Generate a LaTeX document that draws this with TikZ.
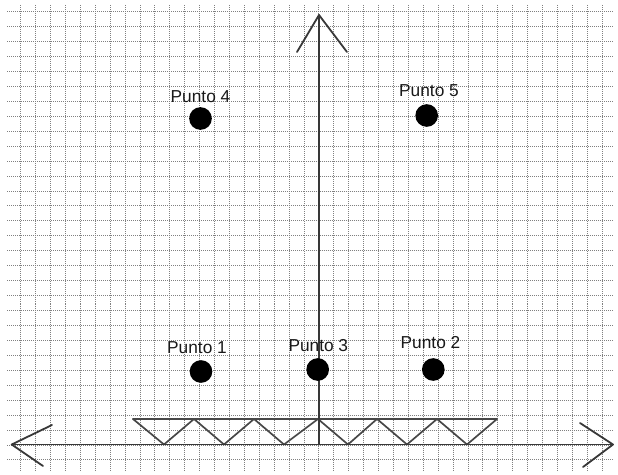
\documentclass[tikz,border=0pt]{standalone}
\usepackage{fontspec}
\setmainfont{Liberation Sans}
\begin{document}
\begin{tikzpicture}[x=0.333333mm,y=-0.333333mm,
  gridline/.style={draw=black!50, line width=0.8pt, dash pattern=on 0.95pt off 0.95pt},
  axis/.style={draw=black!78, line width=1.7pt, line cap=round, line join=round},
  truss/.style={draw=black!72, line width=1.6pt, line cap=round, line join=round},
  dot/.style={circle, fill=black, draw=none, minimum size=21.5pt, inner sep=0pt},
  lbl/.style={font=\fontsize{16.4}{19}\selectfont, text=black!90, inner sep=0pt}]
\useasboundingbox (0,0) rectangle (618,475);
\fill[white] (0,0) rectangle (618,475);
% grid
\foreach \k in {0,...,39} \draw[gridline] ({20.7+14.91*\k},5) -- ({20.7+14.91*\k},470);
\foreach \k in {0,...,30} \draw[gridline] (7,{11.7+14.94*\k}) -- (613,{11.7+14.94*\k});
% truss
\coordinate (t0) at (133,419);
\coordinate (t1) at (164,444.5);
\coordinate (t2) at (194,419);
\coordinate (t3) at (224,444.5);
\coordinate (t4) at (254,419);
\coordinate (t5) at (284,444.5);
\coordinate (t6) at (318,419);
\coordinate (t7) at (348,444.5);
\coordinate (t8) at (377,419);
\coordinate (t9) at (407,444.5);
\coordinate (t10) at (437,419);
\coordinate (t11) at (467,444.5);
\coordinate (t12) at (497,419);
\draw[truss] (t0) -- (t12);
\draw[truss] (t0) -- (t1) -- (t2) -- (t3) -- (t4) -- (t5) -- (t6) -- (t7) -- (t8) -- (t9) -- (t10) -- (t11) -- (t12);
% axes
\coordinate (xl) at (11.7,444.5);
\coordinate (xr) at (613,444.5);
\coordinate (yb) at (319,444.5);
\coordinate (yt) at (319,15);
\coordinate (yt1) at (297,52);
\coordinate (yt2) at (347,52);
\coordinate (xl1) at (52,425);
\coordinate (xl2) at (43,466);
\coordinate (xr1) at (580,423);
\coordinate (xr2) at (583,467);
\draw[axis] (xl) -- (xr);
\draw[axis] (yb) -- (yt);
\draw[axis] (yt1) -- (yt) -- (yt2);
\draw[axis] (xl1) -- (xl) -- (xl2);
\draw[axis] (xr1) -- (xr) -- (xr2);
% points
\node[dot] (p1) at (201,371.5) {};
\node[dot] (p2) at (433.3,369.5) {};
\node[dot] (p3) at (317.7,369.5) {};
\node[dot] (p4) at (200.5,118.5) {};
\node[dot] (p5) at (426.7,115.5) {};
% labels
\node[lbl, anchor=base west] (l1) at (167,353.3) {Punto 1};
\node[lbl, anchor=base west] (l2) at (400.5,348.3) {Punto 2};
\node[lbl, anchor=base west] (l3) at (288.3,351.7) {Punto 3};
\node[lbl, anchor=base west] (l4) at (170.5,102.3) {Punto 4};
\node[lbl, anchor=base west] (l5) at (399,96.7) {Punto 5};
\end{tikzpicture}
\end{document}
